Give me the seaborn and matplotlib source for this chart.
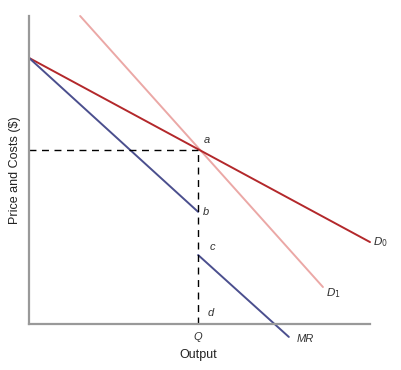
import pandas as pd
import numpy as np
import matplotlib
matplotlib.use("Agg")
import matplotlib.pyplot as plt
import seaborn as sns

sns.set_style("white")
plt.rcParams['font.family'] = ['Liberation Sans Narrow', 'Liberation Sans', 'DejaVu Sans']

# Curve end points (output, price)
d0_x = [0, 100]
d0_y = [86.4, 26.6]
d1_x = [15.0, 86.2]
d1_y = [100, 12.0]
mr_top_x = [0, 49.6]
mr_top_y = [86.4, 36.4]
mr_bot_x = [49.6, 76.2]
mr_bot_y = [22.4, -4.2]

q_out = 49.6
p_star = 56.5
c_point = 22.4
b_point = 36.4

fig = plt.figure(figsize=(4.01, 3.70), dpi=100)
ax = fig.add_axes([29 / 401, 46 / 370, 341 / 401, 308 / 370])

sns.lineplot(x=d1_x, y=d1_y, ax=ax, color="#eba8a6", lw=1.4, clip_on=False)
sns.lineplot(x=d0_x, y=d0_y, ax=ax, color="#b3282b", lw=1.4, clip_on=False)
sns.lineplot(x=mr_top_x, y=mr_top_y, ax=ax, color="#4b4f8e", lw=1.4, clip_on=False)
sns.lineplot(x=mr_bot_x, y=mr_bot_y, ax=ax, color="#4b4f8e", lw=1.4, clip_on=False)

# dashed guides
ax.plot([0, q_out], [p_star, p_star], color="black", lw=1, ls=(0, (5, 4)))
ax.plot([q_out, q_out], [0, p_star], color="black", lw=1, ls=(0, (5, 4)))

ax.set_xlim(0, 100)
ax.set_ylim(0, 100)
ax.set_xticks([])
ax.set_yticks([])
for side in ["top", "right"]:
    ax.spines[side].set_visible(False)
for side in ["left", "bottom"]:
    ax.spines[side].set_color("#999999")
    ax.spines[side].set_linewidth(1.6)

lab = dict(fontsize=8, style="italic", color="#333333")
ax.text(q_out + 1.5, p_star + 1.5, "a", ha="left", va="bottom", **lab)
ax.text(q_out + 1.5, b_point, "b", ha="left", va="center", **lab)
ax.text(q_out + 3.3, c_point + 1, "c", ha="left", va="bottom", **lab)
ax.text(q_out + 2.8, 2, "d", ha="left", va="bottom", **lab)
ax.text(q_out, -2.5, "Q", ha="center", va="top", **lab)
ax.text(100.8, 26.6, "$D_0$", ha="left", va="center", fontsize=8, color="#333333")
ax.text(87.2, 10.0, "$D_1$", ha="left", va="center", fontsize=8, color="#333333")
ax.text(78.5, -5.0, "MR", ha="left", va="center", **lab)

ax.set_xlabel("Output", fontsize=9, color="#222222", labelpad=15)
ax.set_ylabel("Price and Costs ($)", fontsize=9, color="#222222", labelpad=6)
ax.xaxis.set_label_coords(q_out / 100, -0.08)

fig.savefig("out.png", dpi=100)
